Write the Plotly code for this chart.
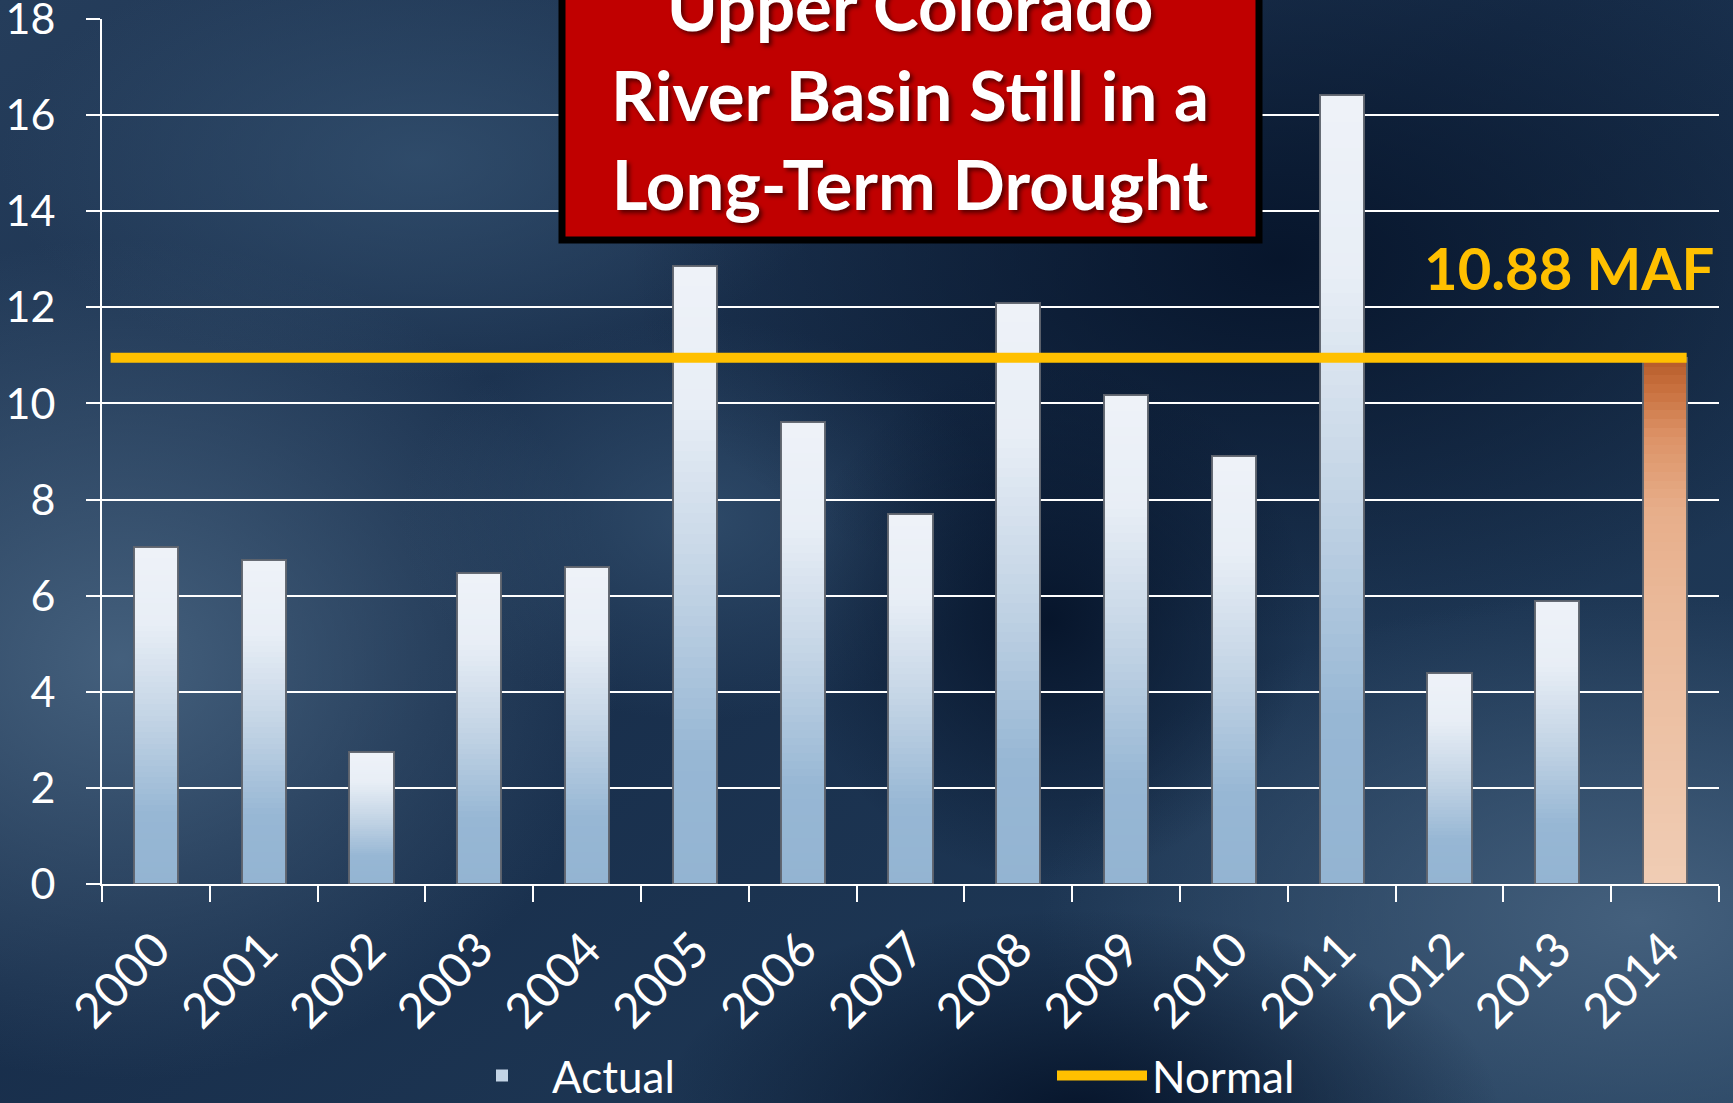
import base64
import plotly.graph_objects as go

# ---------------- data ----------------
YEARS = ["2000", "2001", "2002", "2003", "2004", "2005", "2006", "2007",
         "2008", "2009", "2010", "2011", "2012", "2013", "2014"]
ACTUAL = [7.01, 6.74, 2.74, 6.48, 6.60, 12.87, 9.61, 7.70,
          12.09, 10.18, 8.90, 16.41, 4.39, 5.89, 10.95]
NORMAL = 10.95
NORMAL_LABEL = "10.88 MAF"
TITLE_LINES = ["Upper Colorado", "River Basin Still in a", "Long-Term Drought"]
Y_MAX = 18
Y_STEP = 2

# ---------------- layout geometry (pixels) ----------------
FW, FH = 1733, 1103
L, R, T, B = 102, 1719, 19, 884
PW, PH = R - L, B - T


def px(x):
    return (x - L) / PW


def py(y):
    return (B - y) / PH


FONT = "Lato"
GOLD = "#FFC000"

# gradient stops (fraction of bar height from bottom -> colour)
BLUE_STOPS = [(0.0, (147, 180, 210)), (0.22, (151, 183, 212)), (0.5, (195, 212, 229)),
              (0.78, (232, 238, 246)), (1.0, (238, 242, 248))]
ORANGE_STOPS = [(0.0, (240, 205, 181)), (0.55, (234, 184, 152)), (0.72, (231, 174, 138)),
                (0.86, (220, 146, 102)), (0.95, (200, 112, 62)), (1.0, (184, 94, 44))]


def interp(stops, f):
    for (f0, c0), (f1, c1) in zip(stops[:-1], stops[1:]):
        if f0 <= f <= f1:
            t = 0 if f1 == f0 else (f - f0) / (f1 - f0)
            c = [round(a + (b - a) * t) for a, b in zip(c0, c1)]
            return "rgb(%d,%d,%d)" % tuple(c)
    c = stops[-1][1]
    return "rgb(%d,%d,%d)" % c


N = 60
BAR_W = 0.41
fig = go.Figure()
for k in range(N):
    frac = 1 - k / N
    colors = [interp(ORANGE_STOPS if yr == "2014" else BLUE_STOPS, frac) for yr in YEARS]
    fig.add_trace(go.Bar(
        x=YEARS, y=[v * frac for v in ACTUAL], width=BAR_W,
        marker=dict(color=colors, line=dict(width=0)),
        name="Actual", showlegend=(k == N // 2), hoverinfo="skip",
    ))
# outline
fig.add_trace(go.Bar(
    x=YEARS, y=ACTUAL, width=BAR_W, name="Actual outline", showlegend=False,
    marker=dict(color="rgba(0,0,0,0)", line=dict(color="rgba(95,100,110,0.95)", width=2)),
    hovertemplate="%{x}: %{y}<extra></extra>",
))

# background
svg = f"""<svg xmlns='http://www.w3.org/2000/svg' width='{FW}' height='{FH}' viewBox='0 0 {FW} {FH}' preserveAspectRatio='none'>
<defs>
<linearGradient id='g' x1='0' y1='0' x2='1' y2='1'>
<stop offset='0' stop-color='#253d5b'/><stop offset='0.45' stop-color='#182e4b'/><stop offset='1' stop-color='#223e5c'/>
</linearGradient>
<radialGradient id='lt'><stop offset='0' stop-color='#46627f' stop-opacity='0.95'/><stop offset='1' stop-color='#46627f' stop-opacity='0'/></radialGradient>
<radialGradient id='lt2'><stop offset='0' stop-color='#33506f' stop-opacity='0.8'/><stop offset='1' stop-color='#33506f' stop-opacity='0'/></radialGradient>
<radialGradient id='dk'><stop offset='0' stop-color='#06142a' stop-opacity='0.95'/><stop offset='1' stop-color='#06142a' stop-opacity='0'/></radialGradient>
</defs>
<rect width='{FW}' height='{FH}' fill='url(#g)'/>
<ellipse cx='120' cy='660' rx='500' ry='420' fill='url(#lt)'/>
<ellipse cx='1640' cy='920' rx='600' ry='330' fill='url(#lt)'/>
<ellipse cx='420' cy='160' rx='420' ry='220' fill='url(#lt2)'/>
<ellipse cx='700' cy='520' rx='300' ry='200' fill='url(#lt2)'/>
<ellipse cx='1280' cy='260' rx='650' ry='380' fill='url(#dk)'/>
<ellipse cx='1080' cy='1110' rx='420' ry='200' fill='url(#dk)'/>
<ellipse cx='1050' cy='620' rx='260' ry='260' fill='url(#dk)'/>
</svg>"""
src = "data:image/svg+xml;base64," + base64.b64encode(svg.encode()).decode()

shapes = [
    # title box
    dict(type="rect", xref="paper", yref="paper", x0=px(562), x1=px(1259), y0=py(-20), y1=py(240),
         fillcolor="#C00000", line=dict(color="black", width=7), layer="above"),
    # normal line
    dict(type="line", xref="x", yref="y", x0=-0.42, x1=len(YEARS) - 1 + 0.2, y0=NORMAL, y1=NORMAL,
         line=dict(color=GOLD, width=10), layer="above", name="Normal", showlegend=True),
]

annotations = [
    dict(xref="paper", yref="paper", x=px(910), y=py(94), xanchor="center", yanchor="middle",
         text="<br>".join(TITLE_LINES), showarrow=False, align="center",
         font=dict(family=FONT, size=69, color="white", weight=700,
                   shadow="3px 3px 4px rgba(0,0,0,0.55)")),
    dict(xref="paper", yref="paper", x=px(1716), y=py(267), xanchor="right", yanchor="middle",
         text=NORMAL_LABEL, showarrow=False,
         font=dict(family=FONT, size=58, color=GOLD, weight=700)),
]

fig.update_layout(
    width=FW, height=FH, autosize=False,
    margin=dict(l=L, r=FW - R, t=T, b=FH - B, pad=0, autoexpand=False),
    barmode="overlay", bargap=0,
    paper_bgcolor="#1b3250", plot_bgcolor="rgba(0,0,0,0)",
    font=dict(family=FONT, color="white"),
    images=[dict(source=src, xref="paper", yref="paper", x=px(0), y=py(0),
                 sizex=FW / PW, sizey=FH / PH, xanchor="left", yanchor="top",
                 sizing="stretch", layer="below")],
    shapes=shapes, annotations=annotations,
    showlegend=True,
    legend=dict(orientation="h", x=px(452), y=py(1076), xanchor="left", yanchor="middle",
                font=dict(family=FONT, size=44, color="white"), bgcolor="rgba(0,0,0,0)",
                itemwidth=90, entrywidth=495, traceorder="normal"),
    xaxis=dict(type="category", tickson="boundaries", ticks="outside", ticklen=16, tickwidth=2,
               tickcolor="white", showline=True, linecolor="white", linewidth=2,
               tickangle=-45, tickfont=dict(family=FONT, size=48, color="white"),
               ticklabelstandoff=16, automargin=False,
               showgrid=False, range=[-0.5, len(YEARS) - 0.5], fixedrange=True),
    yaxis=dict(range=[0, Y_MAX], tickmode="linear", tick0=0, dtick=Y_STEP,
               ticks="outside", ticklen=14, tickwidth=2,
               tickcolor="white", showline=True, linecolor="white", linewidth=2,
               showgrid=True, gridcolor="white", gridwidth=2, zeroline=False,
               tickfont=dict(family=FONT, size=43, color="white"), ticklabelstandoff=22,
               ticklabeloverflow="allow", automargin=False, fixedrange=True),
)

fig.write_html("out.html", config={"displayModeBar": False},
               post_script="document.body.style.margin='0px';document.body.style.padding='0px';"
                           "document.body.style.overflow='hidden';")
